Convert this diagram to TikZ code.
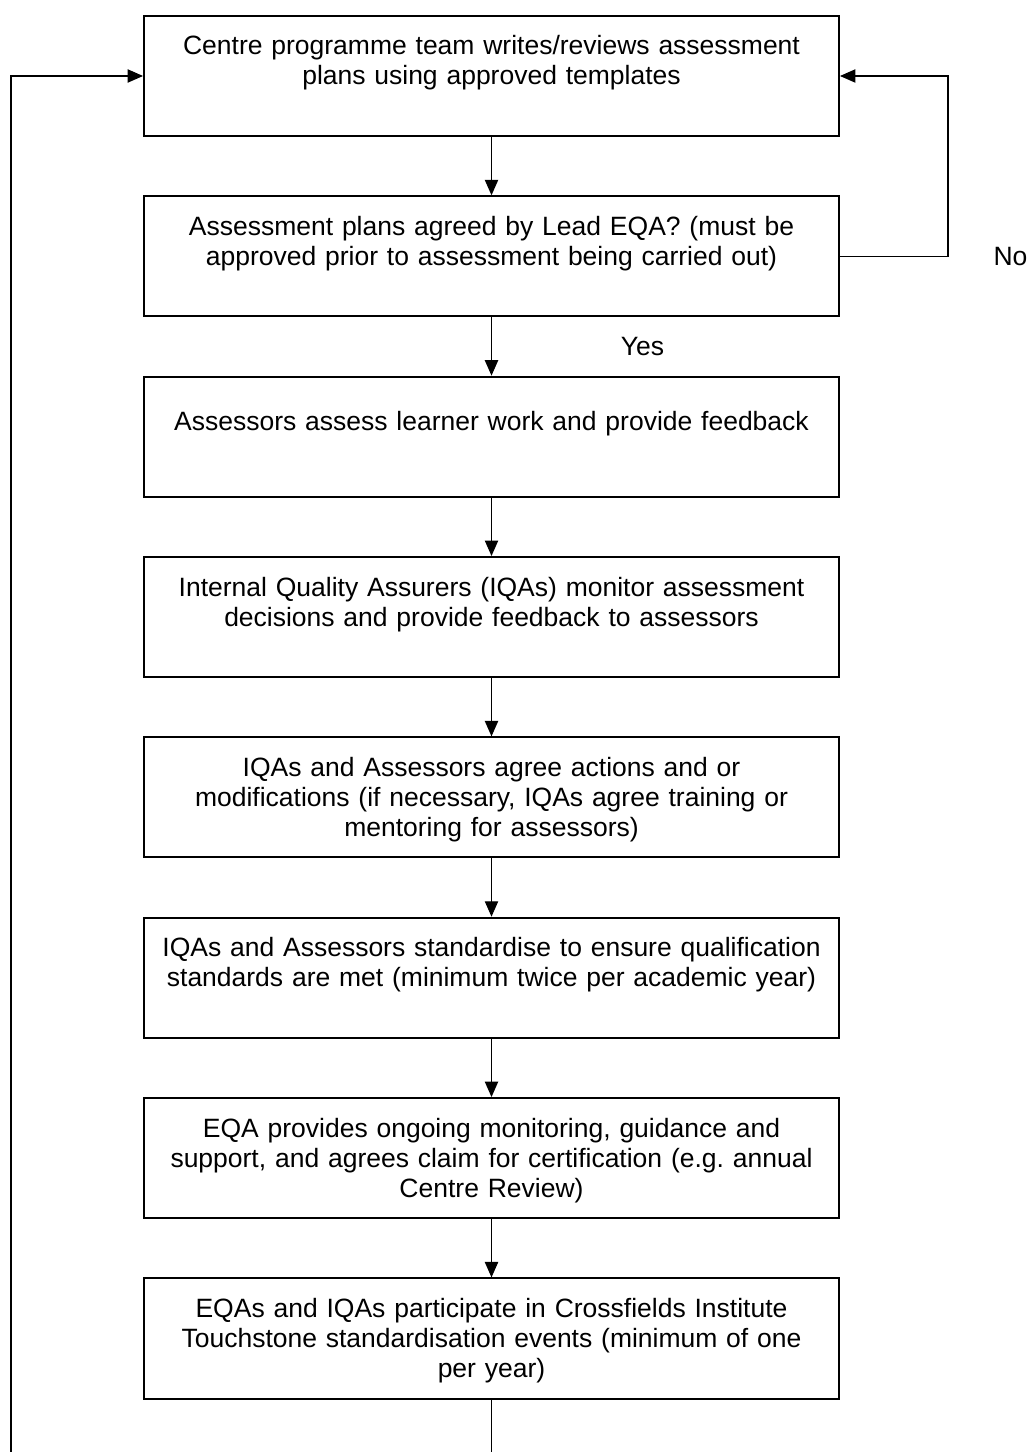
\documentclass[tikz,border=0pt]{standalone}
\usepackage{fontspec}
\setmainfont{Liberation Sans}
\usetikzlibrary{arrows.meta,positioning}
\frenchspacing

\begin{document}
\begin{tikzpicture}[x=0.453pt,y=-0.453pt,node distance=26.4pt,
    >={Triangle[length=7pt,width=6pt]},
    box/.style={rectangle,draw,line width=0.9pt,text width=300pt,inner xsep=7.4pt,
      minimum height=54.4pt,align=center,font=\fontsize{12}{13.6}\selectfont,
      execute at begin node=\rule{0pt}{12.2pt},execute at end node=\strut},
    link/.style={line width=0.6pt},
    lbl/.style={font=\fontsize{12}{13.6}\selectfont}]
    \useasboundingbox (0,0) rectangle (1028,1452);

    \node[box] (plan) at (491.5,76) {Centre programme team writes/reviews assessment\\plans using approved templates\\~};
    \node[box,below = of plan] (agree) {Assessment plans agreed by Lead EQA? (must be\\approved prior to assessment being carried out)\\~};
    \node[box,below = of agree] (assess) {Assessors assess learner work and provide feedback\\~};
    \node[box,below = of assess] (monitor) {Internal Quality Assurers (IQAs) monitor assessment\\decisions and provide feedback to assessors\\~};
    \node[box,below = of monitor] (actions) {IQAs and Assessors agree actions and or\\modifications (if necessary, IQAs agree training or\\mentoring for assessors)};
    \node[box,below = of actions] (standard) {IQAs and Assessors standardise to ensure qualification\\standards are met (minimum twice per academic year)\\~};
    \node[box,below = of standard] (eqa) {EQA provides ongoing monitoring, guidance and\\support, and agrees claim for certification (e.g. annual\\Centre Review)};
    \node[box,below = of eqa] (events) {EQAs and IQAs participate in Crossfields Institute\\Touchstone standardisation events (minimum of one\\per year)};

    \coordinate (out) at (491.5,1452);
    \coordinate (back) at (11,1452);

    \draw[link,->] (plan) -- (agree);
    \draw[link,->] (agree) -- (assess) node[lbl,pos=.5,right=55pt] {Yes};
    \draw[link,->] (assess) -- (monitor);
    \draw[link,->] (monitor) -- (actions);
    \draw[link,->] (actions) -- (standard);
    \draw[link,->] (standard) -- (eqa);
    \draw[link,->] (eqa) -- (events);
    \draw[link] (events) -- (out);

    % not agreed: back to the team
    \draw[link,->] (agree.east) -- ++(108,0) node[lbl,right=17pt] {No} |- (plan.east);
    % next cycle
    \draw[link,->] (back) |- (plan.west);
\end{tikzpicture}
\end{document}
